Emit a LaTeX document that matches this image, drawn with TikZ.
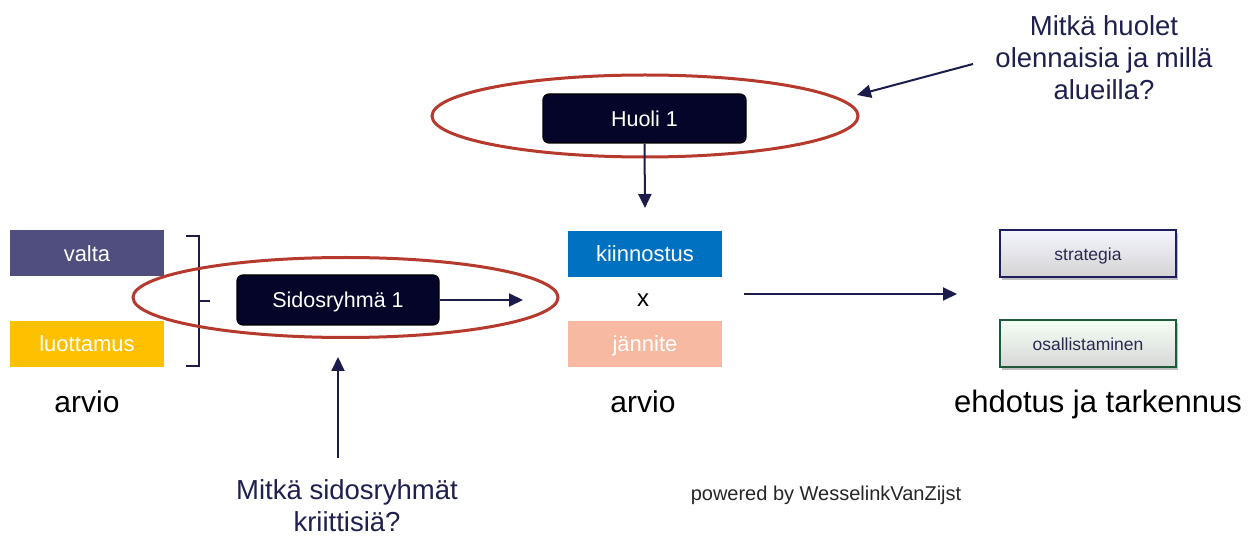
\documentclass[tikz,border=0pt]{standalone}
\usepackage{fontspec}
\setmainfont{Liberation Sans}
\usetikzlibrary{arrows.meta,shapes.geometric,shadows}
\definecolor{navy}{HTML}{1C1C4C}
\definecolor{nodefill}{HTML}{05052A}
\definecolor{ellred}{HTML}{B5392C}
\definecolor{valtac}{HTML}{4F4E7E}
\definecolor{luotc}{HTML}{FFC000}
\definecolor{kiinc}{HTML}{0070C0}
\definecolor{jannc}{HTML}{F8B9A3}
\definecolor{qtext}{HTML}{1F1F50}
\definecolor{strborder}{HTML}{1E1E5A}
\definecolor{osborder}{HTML}{1E5A3A}
\definecolor{boxtext}{HTML}{2A2A50}
\begin{document}
\begin{tikzpicture}[x=1pt,y=-1pt,
  arr/.style={draw=navy,line width=2pt,-{Triangle[length=14pt,width=13pt]}},
  colbox/.style={minimum width=154pt,minimum height=46pt,inner sep=0pt,text=white,
    text height=19pt,text depth=3pt,
    font=\fontsize{22}{26}\selectfont},
  darknode/.style={draw=black,line width=1.2pt,fill=nodefill,rounded corners=6pt,
    minimum width=202pt,minimum height=50pt,inner sep=0pt,text=white,
    text height=18.5pt,text depth=3pt,
    font=\fontsize{21.5}{25}\selectfont},
  ring/.style={ellipse,draw=ellred,line width=3pt,inner sep=0pt},
  graybox/.style={minimum width=176pt,minimum height=47pt,inner sep=0pt,line width=2pt,
    text=boxtext,font=\fontsize{17.5}{21}\selectfont,
    text height=17pt,text depth=3pt,
    drop shadow={shadow xshift=2pt,shadow yshift=-3pt,fill=black,opacity=0.25}},
  bigtext/.style={font=\fontsize{30}{34}\selectfont,text=black,inner sep=0pt},
  qtextst/.style={font=\fontsize{27.5}{32}\selectfont,text=qtext,align=center,inner sep=0pt}
]
\useasboundingbox[fill=white] (0,0) rectangle (1259,537);

% left colour boxes
\node[colbox,fill=valtac] (valta) at (87,253.5) {valta};
\node[colbox,fill=luotc] (luot) at (87,344) {luottamus};
\node[bigtext] (arvio1) at (87,402) {arvio};

% bracket
\draw[navy,line width=1.6pt] (186,236) -- (199,236) -- (199,366) -- (186,366);
\draw[navy,line width=1.6pt] (199,301) -- (210,301);

% stakeholder
\node[ring,minimum width=425pt,minimum height=80pt] (ring1) at (345.5,297.5) {};
\node[darknode] (sidos) at (338,300) {Sidosryhmä 1};
\coordinate (sidosend) at (523,300);
\draw[arr] (sidos.east) -- (sidosend);

% concern
\node[ring,minimum width=426pt,minimum height=82pt] (ring2) at (645,116) {};
\node[darknode,minimum width=203pt,minimum height=49pt] (huoli) at (644.5,118.5) {Huoli 1};
\coordinate (huoliend) at (645,208);
\draw[arr] (huoli.south) -- (huoliend);

% middle boxes
\node[colbox,fill=kiinc] (kiin) at (645,254) {kiinnostus};
\node[font=\fontsize{24}{28}\selectfont,inner sep=0pt] (times) at (643,300) {x};
\node[colbox,fill=jannc] (jann) at (645,344) {jännite};
\node[bigtext] (arvio2) at (643,402) {arvio};

% long arrow
\coordinate (longa) at (744,294);
\coordinate (longb) at (957,294);
\draw[arr] (longa) -- (longb);

% right boxes
\node[graybox,draw=strborder,top color=white!96!blue,bottom color=black!17!white] (strat) at (1088,253.5) {strategia};
\node[graybox,draw=osborder,top color=white!96!green,bottom color=black!16!white] (osal) at (1088,344) {osallistaminen};
\node[bigtext,font=\fontsize{31}{35}\selectfont] (ehd) at (1098,404) {ehdotus ja tarkennus};

% questions
\node[qtextst] (q1) at (1104,58) {Mitkä huolet\\olennaisia ja millä\\alueilla?};
\coordinate (q1a) at (973,64);
\coordinate (q1b) at (857,95);
\draw[arr] (q1a) -- (q1b);

\node[qtextst] (q2) at (347,506) {Mitkä sidosryhmät\\kriittisiä?};
\coordinate (q2a) at (338,458);
\coordinate (q2b) at (338,357);
\draw[arr] (q2a) -- (q2b);

\node[font=\fontsize{20}{24}\selectfont,text=black!85,inner sep=0pt] (pow) at (826,495) {powered by WesselinkVanZijst};
\end{tikzpicture}
\end{document}
